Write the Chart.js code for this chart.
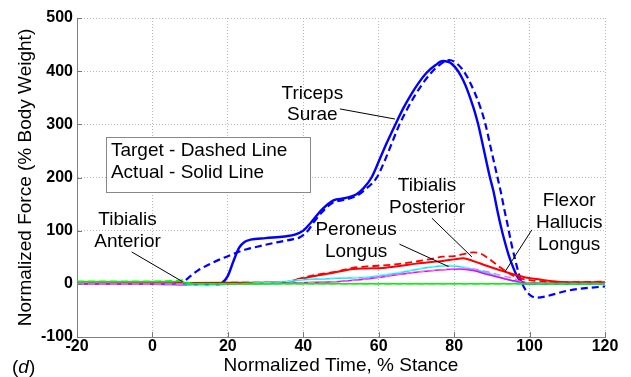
<!DOCTYPE html>
<html>
<head>
<meta charset="utf-8">
<script src="https://cdn.jsdelivr.net/npm/chart.js@4.4.1/dist/chart.umd.min.js"></script>
<style>
  html, body { margin: 0; padding: 0; background: #fff; }
  #forceChart { display: block; }
</style>
</head>
<body>
<canvas id="forceChart" width="631" height="377"></canvas>
<script>
// Axis ranges / ticks
const xTicks = [-20, 0, 20, 40, 60, 80, 100, 120];
const yTicks = [-100, 0, 100, 200, 300, 400, 500];

// Series, [% stance, % body weight]
const tricepsActual = [[-20,0],[0,0],[10,-1],[17,-1],[18.5,2],[20,15],[21.5,43],[23,68],[24.5,79],[26,83],[30,86],[35,89],[38,93],[40,100],[42,115],[45,140],[48,157],[51,161],[54,168],[56,180],[58.1,200],[60,230],[62,263],[64.3,298],[66.5,330],[68.5,355],[70.5,377],[72.7,397],[75,411],[77,419],[79.5,413],[82.4,383],[85.1,332],[86.3,302],[87.7,258],[89.5,200],[90.4,175],[91.4,140],[92.4,108],[93.4,80],[94.5,53],[95.7,30],[96.8,13],[97.8,4],[99,1],[102,0],[110,0],[120,0]];
const tricepsTarget = [[-20,0],[0,0],[7,0],[8.2,4],[10,14],[12,25],[13.5,31],[16,40],[17.9,46],[20,52],[22.4,59],[25,65],[28.5,71],[33,78],[37.4,84],[39,87],[41,98],[43,118],[45,135],[47.9,153],[51,158],[54,165],[56,175],[59.5,200],[61.5,230],[63.5,265],[65.4,298],[67.5,328],[69.5,353],[71.5,375],[73.8,396],[76,411],[78.7,421],[80,418],[82,405],[84,382],[87,331],[88.3,300],[89.7,256],[91.5,200],[92.4,172],[93.3,140],[94.2,110],[95.2,75],[96.2,45],[97.2,18],[98.2,-2],[99.3,-15],[100.5,-23],[101.8,-26],[104,-24],[110,-13],[115,-8],[120,-5]];
const tibPostActual = [[-20,0],[0,1],[20,2],[35,3],[39.2,9],[44,16],[48,21],[53.3,28],[57,29],[61.2,30],[65,33],[70,38],[74,41],[77,43],[80,46],[82.4,48],[85,43],[88.6,34],[92,26],[95.7,18],[99,12],[102.8,8],[106,5],[110,3],[120,3]];
const tibPostTarget = [[-20,0],[0,1],[20,2],[35,3],[39,10],[44,18],[48,22],[53,30],[57,33],[60,34],[65,37],[70,42],[74,47],[77,51],[80,52],[82.5,56],[85,59],[87,57],[90,43],[92.2,31],[94.5,20],[96.6,12],[100,7],[105,4],[110,3],[120,4]];
const peroneusActual = [[-20,0],[5,0],[10,-2],[15,-3],[20,-1],[30,2],[35,4],[39,7],[44,9],[48,10],[52,11],[56.8,12],[61,16],[65.7,21],[70,27],[74.5,32],[78,34],[80.7,33],[84,29],[88.6,21],[92,13],[95.7,5],[98,1],[102,0],[120,0]];
const peroneusTarget = [[-20,0],[5,0],[10,-2],[15,-3],[20,-1],[30,2],[35,4],[39,8],[44,10],[48,11],[52,12],[56.8,13],[61,17],[65.7,22],[70,28],[74.5,33],[78,35],[80.7,34],[84,30],[88.6,23],[92,15],[95.7,6],[98,2],[102,0],[120,0]];
const flexorActual = [[-20,0],[20,0],[35,1],[39,2],[44,3],[48,4],[52,6],[56.8,9],[61,13],[65.7,18],[70,22],[74.5,25],[78,27],[81.5,28],[85,25],[88.6,18],[92,12],[95.7,6],[98,3],[102,1],[120,1]];
const flexorTarget = [[-20,0],[20,0],[35,1],[39,2],[44,3],[48,4],[52,6],[56.8,9],[61,13],[65.7,18],[70,22],[74.5,25],[78,27],[81.5,29],[85,28],[88.6,23],[92,17],[95.7,10],[98,4],[102,1],[120,1]];
const tibAntActual = [[-20,4],[0,4],[5,4],[7.5,5],[9,1],[12,0],[120,0]];
const tibAntTarget = [[-20,5],[0,5],[6,6],[8,7],[9.5,2],[12,0],[120,0]];

const toPoints = arr => arr.map(p => ({ x: p[0], y: p[1] }));

function series(data, color, width, dashed) {
    return {
        data: toPoints(data),
        borderColor: color,
        borderWidth: width,
        borderDash: dashed ? [7, 4] : [],
        pointRadius: 0,
        fill: false,
        cubicInterpolationMode: 'monotone'
    };
}

// Text labels placed in data units
const labels = [
    { lines: ['Triceps', 'Surae'], x: 42.4, y: [357, 318], from: [49.7, 329], to: [64.3, 310] },
    { lines: ['Tibialis', 'Anterior'], x: -6.6, y: [120, 79], from: [-5.5, 60], to: [8, 4] },
    { lines: ['Peroneus', 'Longus'], x: 54, y: [101, 60], from: [65.5, 74.6], to: [78.5, 32.5] },
    { lines: ['Tibialis', 'Posterior'], x: 72.8, y: [184, 143], from: [74.1, 123.5], to: [84.7, 50.7] },
    { lines: ['Flexor', 'Hallucis', 'Longus'], x: 110.5, y: [156, 115, 73], from: [100.6, 101.5], to: [93.5, 23] }
];

const FONT = '"Liberation Sans", Arial, sans-serif';

const annotations = {
    id: 'annotations',
    afterDraw(chart) {
        const ctx = chart.ctx;
        const xs = chart.scales.x, ys = chart.scales.y;
        const area = chart.chartArea;
        ctx.save();

        // inward tick marks
        ctx.strokeStyle = '#777';
        ctx.lineWidth = 1;
        ctx.beginPath();
        xTicks.forEach(v => {
            const px = Math.round(xs.getPixelForValue(v)) + 0.5;
            ctx.moveTo(px, area.bottom);
            ctx.lineTo(px, area.bottom - 5);
        });
        yTicks.forEach(v => {
            const py = Math.round(ys.getPixelForValue(v)) + 0.5;
            ctx.moveTo(area.left, py);
            ctx.lineTo(area.left + 5, py);
        });
        ctx.stroke();

        // legend box
        const bx1 = xs.getPixelForValue(-12.2), bx2 = xs.getPixelForValue(41.9);
        const by1 = ys.getPixelForValue(276), by2 = ys.getPixelForValue(173);
        ctx.fillStyle = '#fff';
        ctx.fillRect(bx1, by1, bx2 - bx1, by2 - by1);
        ctx.strokeStyle = '#888';
        ctx.strokeRect(Math.round(bx1) + 0.5, Math.round(by1) + 0.5, Math.round(bx2 - bx1), Math.round(by2 - by1));
        ctx.fillStyle = '#000';
        ctx.font = '19px ' + FONT;
        ctx.textAlign = 'left';
        ctx.textBaseline = 'middle';
        ctx.fillText('Target - Dashed Line', xs.getPixelForValue(-11), ys.getPixelForValue(250));
        ctx.fillText('Actual - Solid Line', xs.getPixelForValue(-11), ys.getPixelForValue(209));

        // muscle labels + leader lines
        ctx.textAlign = 'center';
        labels.forEach(l => {
            l.lines.forEach((t, i) => {
                ctx.fillText(t, xs.getPixelForValue(l.x), ys.getPixelForValue(l.y[i]));
            });
            ctx.strokeStyle = '#000';
            ctx.beginPath();
            ctx.moveTo(xs.getPixelForValue(l.from[0]), ys.getPixelForValue(l.from[1]));
            ctx.lineTo(xs.getPixelForValue(l.to[0]), ys.getPixelForValue(l.to[1]));
            ctx.stroke();
        });

        // panel letter
        ctx.textAlign = 'left';
        ctx.textBaseline = 'alphabetic';
        ctx.font = '19px ' + FONT;
        ctx.fillText('(', 12, 373);
        let w = ctx.measureText('(').width;
        ctx.font = 'italic 19px ' + FONT;
        ctx.fillText('d', 12 + w, 373);
        w += ctx.measureText('d').width;
        ctx.font = '19px ' + FONT;
        ctx.fillText(')', 12 + w, 373);
        ctx.restore();
    }
};

const ctx = document.getElementById('forceChart').getContext('2d');
new Chart(ctx, {
    type: 'line',
    data: {
        datasets: [
            series(tibAntTarget, '#00ff00', 1.5, true),
            series(tibAntActual, '#00ee00', 1.5, false),
            series(flexorTarget, '#ff66ff', 1.2, true),
            series(flexorActual, '#ee00ee', 1.5, false),
            series(peroneusTarget, '#66ffff', 1.2, true),
            series(peroneusActual, '#00e5ff', 1.5, false),
            series(tibPostTarget, '#ff0000', 1.8, true),
            series(tibPostActual, '#ff0000', 2, false),
            series(tricepsTarget, '#0000ff', 2.2, true),
            series(tricepsActual, '#0000ff', 2.4, false)
        ]
    },
    options: {
        responsive: false,
        animation: false,
        devicePixelRatio: 1,
        layout: { padding: { top: 18, right: 26, left: 0, bottom: 0 } },
        plugins: {
            legend: { display: false },
            tooltip: { enabled: false }
        },
        scales: {
            x: {
                type: 'linear',
                min: -20,
                max: 120,
                afterFit: s => { s.height = 40; },
                afterBuildTicks: s => { s.ticks = xTicks.map(v => ({ value: v })); },
                ticks: { color: '#000', font: { family: FONT, size: 16, weight: 'bold' }, padding: 0, maxRotation: 0 },
                grid: { color: '#b8b8b8', lineWidth: 1, drawTicks: false },
                border: { display: true, color: '#808080', width: 1, dash: [1, 2] },
                title: {
                    display: true,
                    text: 'Normalized Time, % Stance',
                    color: '#000',
                    font: { family: FONT, size: 19 },
                    padding: { top: 0, bottom: 0 }
                }
            },
            y: {
                min: -100,
                max: 500,
                afterFit: s => { s.width = 77; },
                afterBuildTicks: s => { s.ticks = yTicks.map(v => ({ value: v })); },
                ticks: { color: '#000', font: { family: FONT, size: 16, weight: 'bold' }, padding: 4 },
                grid: { color: '#b8b8b8', lineWidth: 1, drawTicks: false },
                border: { display: true, color: '#808080', width: 1, dash: [1, 2] },
                title: {
                    display: true,
                    text: 'Normalized Force (% Body Weight)',
                    color: '#000',
                    font: { family: FONT, size: 19 },
                    padding: { top: 14, bottom: 0 }
                }
            }
        }
    },
    plugins: [annotations]
});
</script>
</body>
</html>
